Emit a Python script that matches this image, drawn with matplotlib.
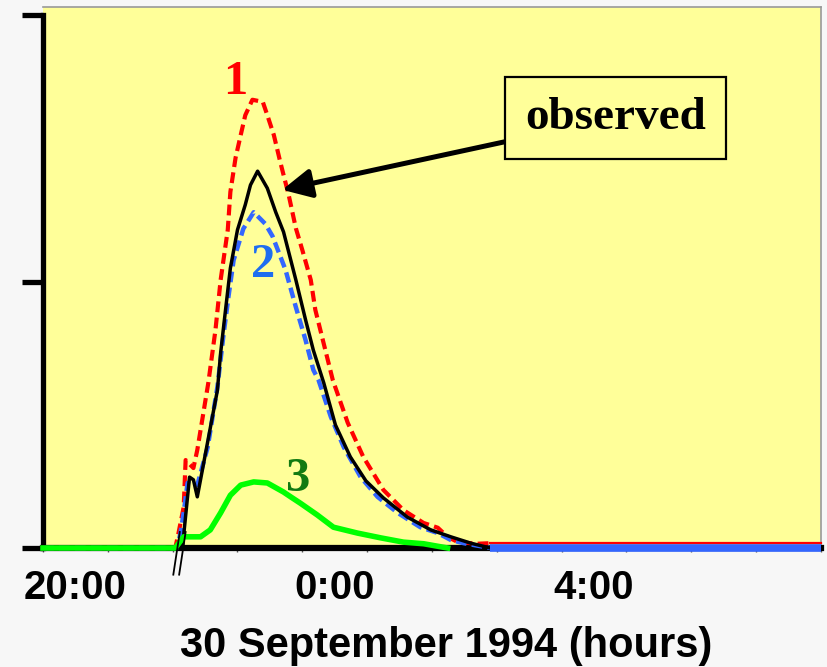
import matplotlib
matplotlib.use("Agg")
import matplotlib.pyplot as plt
from matplotlib import font_manager

# =========================
# DATA (hours after 20:00, relative discharge)
# =========================

obs_t = [-0.5, 1.65, 1.76, 1.82, 1.88, 2.19, 2.24, 2.31, 2.39, 2.50, 2.62, 2.70, 2.81, 2.96,
         3.09, 3.21, 3.40, 3.55, 3.67, 3.83, 4.01, 4.24, 4.48, 4.75, 5.12, 5.48, 5.79, 6.10,
         6.40, 11.5]
obs_v = [0, 0, 0.133, 0.128, 0.096, 0.296, 0.366, 0.441, 0.525, 0.597, 0.644, 0.681, 0.707,
         0.675, 0.630, 0.593, 0.503, 0.428, 0.371, 0.310, 0.231, 0.171, 0.126, 0.094, 0.058,
         0.034, 0.021, 0.009, 0, 0]

red_t = [-0.5, 1.54, 1.59, 1.67, 1.70, 1.82, 1.88, 2.05, 2.16, 2.24, 2.35, 2.39, 2.47, 2.55,
         2.62, 2.73, 2.89, 2.96, 3.06, 3.16, 3.29, 3.40, 3.50, 3.63, 3.70, 3.97, 4.20, 4.44,
         4.75, 5.06, 5.37, 5.59, 5.74, 5.90, 6.20, 6.40, 11.5]
red_v = [0, 0, 0.028, 0.077, 0.165, 0.150, 0.184, 0.310, 0.409, 0.503, 0.597, 0.668, 0.732,
         0.775, 0.812, 0.841, 0.837, 0.812, 0.775, 0.724, 0.662, 0.600, 0.559, 0.503, 0.447,
         0.315, 0.235, 0.171, 0.109, 0.071, 0.047, 0.038, 0.021, 0.011, 0.008, 0.009, 0.009]

blue_t = [-0.5, 1.57, 1.62, 1.67, 1.73, 1.88, 2.04, 2.19, 2.28, 2.36, 2.44, 2.59, 2.75, 2.93,
          3.04, 3.24, 3.40, 3.55, 3.67, 3.75, 3.94, 4.14, 4.40, 4.66, 4.97, 5.32, 5.59, 5.79,
          5.99, 6.40, 11.5]
blue_v = [0, 0, 0.028, 0.066, 0.122, 0.118, 0.189, 0.302, 0.396, 0.471, 0.540, 0.599, 0.630,
          0.608, 0.585, 0.522, 0.452, 0.390, 0.334, 0.315, 0.246, 0.189, 0.133, 0.096, 0.066,
          0.039, 0.028, 0.015, 0.009, 0, 0]

green_t = [-0.5, 1.54, 1.67, 1.93, 2.08, 2.24, 2.39, 2.55, 2.75, 2.96, 3.21, 3.32, 3.47, 3.73,
           3.98, 4.35, 4.71, 5.06, 5.37, 5.74]
green_v = [0, 0, 0.021, 0.021, 0.034, 0.066, 0.099, 0.118, 0.124, 0.122, 0.105, 0.096, 0.084,
           0.062, 0.039, 0.028, 0.019, 0.011, 0.008, 0]

tick_pos = [0, 4, 8]
tick_labels = ["20:00", "0:00", "4:00"]

# =========================
# FONTS
# =========================

names = {f.name for f in font_manager.fontManager.ttflist}
sans = "Liberation Sans" if "Liberation Sans" in names else "DejaVu Sans"
serif = "Liberation Serif" if "Liberation Serif" in names else "DejaVu Serif"

# =========================
# PLOT
# =========================

fig = plt.figure(figsize=(8.28, 6.67), dpi=100, facecolor="#f7f7f7")
ax = fig.add_axes([43 / 828, 1 - 548 / 667, 778 / 828, 541 / 667])
ax.set_facecolor("#ffff99")

# the flat tails after the event are drawn solid, the rest dashed
red_cut = red_t.index(6.40)
blue_cut = blue_t.index(6.40)

ax.plot(red_t[:red_cut + 1], red_v[:red_cut + 1], color="#ff0000", lw=3.0, dashes=(2.6, 1.3),
        zorder=3, clip_on=False)
ax.plot(red_t[red_cut:], red_v[red_cut:], color="#ff0000", lw=1.6, zorder=3, clip_on=False)
ax.plot(obs_t, obs_v, color="black", lw=2.5, zorder=5, clip_on=False)
ax.plot(blue_t[:blue_cut + 1], blue_v[:blue_cut + 1], color="#3366ff", lw=3.2,
        dashes=(2.4, 1.2), zorder=4, clip_on=False)
ax.plot(blue_t[blue_cut:], blue_v[blue_cut:], color="#3366ff", lw=5.5, zorder=5.5,
        solid_capstyle="butt", clip_on=False)
ax.plot(green_t, green_v, color="#00ff00", lw=4.0, zorder=6, clip_on=False)

# break marks where the observed record starts
for dx in [0.0, 0.09]:
    ax.plot([obs_t[1] - 0.14 + dx, obs_t[1] - 0.04 + dx], [-0.05, 0.03],
            color="black", lw=1.3, clip_on=False, zorder=7)

ax.set_xlim(-0.5, 11.5)
ax.set_ylim(0, 541 / 533)

# axes look
for s in ["top", "right"]:
    ax.spines[s].set_color("#999999")
    ax.spines[s].set_linewidth(1.2)
ax.spines["left"].set_linewidth(3.8)
ax.spines["left"].set_bounds(0, 1)
ax.spines["bottom"].set_linewidth(4.5)

ax.set_yticks([0, 0.5, 1])
ax.set_yticklabels([])
ax.tick_params(axis="y", direction="out", length=15, width=3.8, color="black")

ax.set_xticks(tick_pos)
ax.set_xticklabels(tick_labels, fontsize=29, fontweight="bold", family=sans)
ax.set_xticks([k - 0.5 for k in range(13)], minor=True)
ax.tick_params(axis="x", which="major", length=0, pad=15)
ax.tick_params(axis="x", which="minor", direction="out", length=3, width=1, color="#555555")

fig.text(446 / 828, 1 - 646 / 667, "30 September 1994 (hours)", fontsize=30,
         fontweight="bold", family=sans, ha="center", va="center")

# curve numbers
ax.text(2.47, 0.874, "1", color="#ff0000", fontsize=35, fontweight="bold", family=serif,
        ha="center", va="center")
ax.text(2.90, 0.531, "2", color="#1e6ef0", fontsize=35, fontweight="bold", family=serif,
        ha="center", va="center")
ax.text(3.43, 0.130, "3", color="#127a12", fontsize=35, fontweight="bold", family=serif,
        ha="center", va="center")

ax.annotate("observed", xy=(3.19, 0.672), xytext=(8.33, 0.807),
            fontsize=34, fontweight="bold", family=serif, ha="center", va="center",
            bbox=dict(boxstyle="square,pad=0.42", fc="#ffff99", ec="black", lw=1.6),
            arrowprops=dict(arrowstyle="-|>,head_length=0.5,head_width=0.25",
                            mutation_scale=35, lw=3.6, color="black", shrinkA=0, shrinkB=0),
            zorder=8)

plt.savefig("out.png", dpi=100, facecolor=fig.get_facecolor())
